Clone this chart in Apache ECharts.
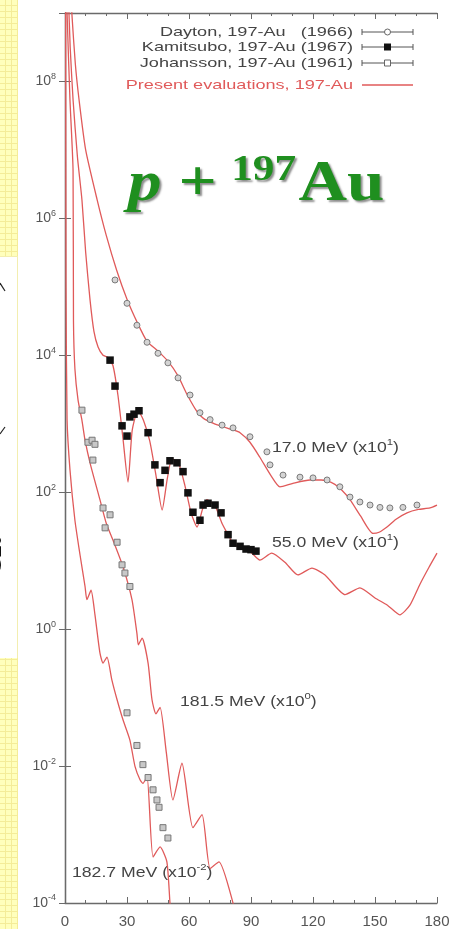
<!DOCTYPE html>
<html>
<head>
<meta charset="utf-8">
<script src="https://cdn.jsdelivr.net/npm/echarts@6/dist/echarts.min.js"></script>
<style>
  html, body { margin: 0; padding: 0; background: #ffffff; }
  #chart { width: 454px; height: 929px; }
</style>
</head>
<body>
<div id="chart"></div>
<script>
// p + 197Au elastic angular distributions (curves scaled as labelled)

// axis ticks
const xTicks = [0, 30, 60, 90, 120, 150, 180];
const yTickExponents = [-4, -2, 0, 2, 4, 6, 8];

// present evaluations: [angle (deg), dsigma/dOmega as plotted]
const eval17 = [[2.5,3.0e9],[3.4,9.0e8],[5.0,1.8e8],[6.8,5.4e7],[10,1.0e7],[15.5,1.9e6],[20,5.6e5],[25,1.75e5],[30,6.6e4],[35,3.0e4],[39.7,1.6e4],[45,1.15e4],[49.8,8.2e3],[54.7,5.0e3],[59,2.7e3],[63.9,1.5e3],[67,1.2e3],[71.6,1.02e3],[76,912],[81.3,813],[84.7,741],[89.5,537],[94.3,324],[99.5,178],[104,120],[110.3,135],[118.5,151],[124,151],[129.7,135],[134,107],[137.9,78],[143,45],[149,25],[152,26],[155.8,31],[160,40],[165.5,50],[171,56],[176.6,59],[180,65]];
const eval55 = [[1.5,2.5e9],[2.5,3.2e8],[3.9,5.4e7],[6.0,8.0e6],[8.2,1.86e6],[10,3.2e5],[12.1,6.5e4],[14,2.24e4],[16,1.32e4],[18.4,1.0e4],[20.8,9.3e3],[23.2,7.1e3],[25.6,2.63e3],[28.0,631],[30.5,141],[32.5,794],[35.3,1.58e3],[38.0,1.12e3],[41.0,562],[44.0,178],[47.0,55],[49.5,158],[51.8,309],[55.0,263],[58.0,126],[61.0,50],[63.9,31],[66.5,56],[68.7,78],[72.6,63],[76.0,35],[78.9,24],[81.3,18],[84.7,15.5],[90,13.2],[94.3,10.2],[100,12.9],[106.4,9.5],[112.7,6.2],[119.5,7.8],[125.8,6.2],[135.5,3.2],[142.7,4.0],[150,2.85],[156,2.24],[162,1.62],[166.9,2.24],[171.7,4.5],[176,7.9],[180,12.9]];
const eval181 = [[0.6,4.0e9],[1.0,1.0e9],[2.4,5.4e7],[3.9,5.0e6],[4.1,3.2e4],[4.8,6.3e3],[6.3,2.24e3],[8.2,1.12e3],[9.7,575],[12.1,269],[16.9,78],[20,35],[23.2,20],[28.1,8.1],[32.4,2.7],[34.8,0.87],[35.5,0.59],[37.3,0.74],[40.2,0.32],[42.1,0.093],[44.0,0.058],[46.0,0.072],[49,0.016],[52.2,3.2e-3],[56.6,0.011],[61.9,1.26e-3],[66.3,1.95e-3],[70.2,3.2e-4],[74.5,4.0e-4],[81.3,1.0e-4],[84,4.0e-5]];
const eval182 = [[0.3,4.0e9],[0.5,1.0e5],[1.0,1.15e3],[2.4,214],[4.8,39],[7.3,12],[9.7,4.2],[10.6,2.7],[12.6,3.7],[14.5,1.62],[16.9,0.45],[18.4,0.32],[20.3,0.39],[22.7,0.18],[25.2,0.093],[28.1,0.047],[31.4,0.024],[33.9,9.8e-3],[36.3,6.3e-3],[37.7,5.6e-3],[39.7,7.0e-3],[42.6,4.7e-4],[46.0,6.6e-4],[49.3,4.0e-4],[50.8,1.0e-4],[52,4.0e-5]];

// measured points
const dayton17 = [[24.2,1.26e5],[30.0,5.75e4],[34.8,2.75e4],[39.7,1.55e4],[45.0,1.07e4],[49.8,7.76e3],[54.7,4.68e3],[60.5,2.63e3],[65.3,1.45e3],[70.2,1.15e3],[76.0,955],[81.3,871],[89.5,646],[97.7,389],[99.2,251],[105.5,178],[113.7,166],[120.0,162],[126.8,151],[133.0,120],[137.9,85],[142.7,72],[147.6,65],[152.4,60],[157.2,59],[163.5,60],[170.3,65]];
const kamitsubo55 = [[21.8,8.5e3],[24.2,3.55e3],[27.6,933],[30.0,661],[31.4,1.26e3],[33.4,1.38e3],[35.8,1.55e3],[40.2,741],[43.5,251],[46.0,138],[48.4,209],[50.8,288],[54.2,269],[57.1,200],[59.5,98],[61.9,51],[65.3,39],[66.8,65],[69.2,69],[72.6,65],[75.5,50],[78.9,24],[81.3,18],[84.7,16.2],[87.6,14.8],[90.0,14.5],[92.4,13.8]];
const johansson181 = [[8.2,1.58e3],[11.1,537],[13.1,575],[13.5,295],[14.5,501],[18.4,58.9],[19.4,30.2],[21.8,46.8],[25.2,18.6],[27.6,8.7],[29.0,6.6],[31.4,4.2]];
const johansson182 = [[30.0,0.060],[34.8,0.020],[37.7,0.0105],[40.2,6.8e-3],[42.6,4.5e-3],[44.5,3.2e-3],[45.5,2.5e-3],[47.4,1.26e-3],[49.8,8.9e-4]];

// curve labels
const curveLabels = [
  { text: '17.0 MeV (x10{s|1})', x: 272, y: 448 },
  { text: '55.0 MeV (x10{s|1})', x: 272, y: 543 },
  { text: '181.5 MeV (x10{s|0})', x: 180, y: 702 },
  { text: '182.7 MeV (x10{s|-2})', x: 72, y: 873 }
];
const legendRows = [
  { text: 'Dayton, 197-Au   (1966)', marker: 'circle' },
  { text: 'Kamitsubo, 197-Au (1967)', marker: 'filled' },
  { text: 'Johansson, 197-Au (1961)', marker: 'square' },
  { text: 'Present evaluations, 197-Au', marker: 'line' }
];

const RED = '#e05a5a';
const AXIS = '#6a6a6a';
const LABEL = '#555555';
const SANS = '"Liberation Sans", Arial, sans-serif';
const SERIF = '"Liberation Serif", "Times New Roman", serif';

// yellow slide texture on the left edge
function gridPattern() {
  const c = document.createElement('canvas');
  c.width = 6; c.height = 6;
  const g = c.getContext('2d');
  g.fillStyle = '#ffffbc';
  g.fillRect(0, 0, 6, 6);
  g.fillStyle = '#f4ec98';
  g.fillRect(5, 0, 1, 6);
  g.fillRect(0, 5, 6, 1);
  return { image: c, repeat: 'repeat' };
}

const chart = echarts.init(document.getElementById('chart'), null, { renderer: 'canvas' });

const graphics = [];
const pattern = gridPattern();
graphics.push({ type: 'rect', shape: { x: 0, y: 0, width: 18, height: 256 }, style: { fill: pattern }, silent: true, z: -10 });
graphics.push({ type: 'rect', shape: { x: 0, y: 658, width: 18, height: 271 }, style: { fill: pattern }, silent: true, z: -10 });
graphics.push({ type: 'line', shape: { x1: 17.5, y1: 256, x2: 17.5, y2: 658 }, style: { stroke: '#f3eeb0', lineWidth: 1 }, silent: true, z: -9 });
graphics.push({ type: 'line', shape: { x1: 0, y1: 256.5, x2: 17.5, y2: 256.5 }, style: { stroke: '#f3eeb0', lineWidth: 1 }, silent: true, z: -9 });
// fragments of the neighbouring slide text
graphics.push({ type: 'polyline', shape: { points: [[0, 283], [5, 291]] }, style: { stroke: '#222', lineWidth: 1.2, fill: null }, silent: true });
graphics.push({ type: 'polyline', shape: { points: [[0, 434], [5, 427]] }, style: { stroke: '#222', lineWidth: 1.2, fill: null }, silent: true });
graphics.push({
  type: 'text', x: 11, y: 576, rotation: Math.PI / 2, silent: true,
  style: { text: 'el.', fontSize: 42, fontWeight: 'bold', fontFamily: SERIF, fill: '#111', align: 'left', verticalAlign: 'bottom' }
});

// title
const titleStyle = { fill: '#1f8f1f', fontFamily: SERIF, fontWeight: 'bold', textShadowColor: 'rgba(0,0,0,0.45)', textShadowBlur: 2, textShadowOffsetX: 2, textShadowOffsetY: 2, verticalAlign: 'middle', align: 'left' };
graphics.push({
  type: 'group', x: 128, y: 0, scaleX: 1.2, silent: true,
  children: [
    { type: 'text', x: 0, y: 186, style: Object.assign({}, titleStyle, { text: 'p', fontSize: 56, fontStyle: 'italic' }) },
    { type: 'text', x: 42, y: 186, style: Object.assign({}, titleStyle, { text: '+', fontSize: 56 }) },
    { type: 'text', x: 86, y: 171, style: Object.assign({}, titleStyle, { text: '197', fontSize: 36 }) },
    { type: 'text', x: 142, y: 186, style: Object.assign({}, titleStyle, { text: 'Au', fontSize: 56 }) }
  ]
});

// curve labels (stretched plot lettering)
curveLabels.forEach(function (l) {
  graphics.push({
    type: 'text', x: l.x, y: l.y, scaleX: 1.26, silent: true,
    style: {
      text: l.text, fontSize: 14, fontFamily: SANS, fill: '#444', align: 'left', verticalAlign: 'middle',
      rich: { s: { fontSize: 9, fontFamily: SANS, fill: '#444', padding: [0, 0, 10, 0] } }
    }
  });
});

// key
const keyY = [32, 47, 63, 85];
legendRows.forEach(function (row, i) {
  const y = keyY[i];
  const isRed = row.marker === 'line';
  graphics.push({
    type: 'text', x: 353, y: y, scaleX: 1.34, silent: true,
    style: { text: row.text, fontSize: 13.5, fontFamily: SANS, fill: isRed ? RED : '#444', align: 'right', verticalAlign: 'middle' }
  });
  if (isRed) {
    graphics.push({ type: 'line', shape: { x1: 362, y1: y, x2: 413, y2: y }, style: { stroke: RED, lineWidth: 1.4 }, silent: true });
    return;
  }
  graphics.push({ type: 'line', shape: { x1: 362, y1: y, x2: 413, y2: y }, style: { stroke: '#555', lineWidth: 1 }, silent: true });
  graphics.push({ type: 'line', shape: { x1: 362, y1: y - 3, x2: 362, y2: y + 3 }, style: { stroke: '#555', lineWidth: 1 }, silent: true });
  graphics.push({ type: 'line', shape: { x1: 413, y1: y - 3, x2: 413, y2: y + 3 }, style: { stroke: '#555', lineWidth: 1 }, silent: true });
  if (row.marker === 'circle') {
    graphics.push({ type: 'circle', shape: { cx: 387.5, cy: y, r: 3 }, style: { fill: '#fff', stroke: '#666', lineWidth: 1 }, silent: true });
  } else if (row.marker === 'filled') {
    graphics.push({ type: 'rect', shape: { x: 384, y: y - 3.5, width: 7, height: 7 }, style: { fill: '#111' }, silent: true });
  } else {
    graphics.push({ type: 'rect', shape: { x: 384.5, y: y - 3, width: 6, height: 6 }, style: { fill: '#fff', stroke: '#666', lineWidth: 1 }, silent: true });
  }
});

function supLabel(v) {
  const e = Math.round(Math.log10(v));
  if (yTickExponents.indexOf(e) < 0) return '';
  return '{b|10}{s|' + e + '}';
}

const axisCommon = {
  axisLine: { show: true, lineStyle: { color: AXIS, width: 1.3 } },
  axisTick: { show: true, inside: true, length: 6, lineStyle: { color: AXIS, width: 1 } },
  splitLine: { show: false }
};

function curve(name, data) {
  return {
    name: name, type: 'line', data: data, xAxisIndex: 0, yAxisIndex: 0,
    showSymbol: false, smooth: 0.2, clip: true, z: 2,
    lineStyle: { color: RED, width: 1.3 }
  };
}
function points(name, data, symbol, size, fill, border) {
  return {
    name: name, type: 'scatter', data: data, xAxisIndex: 0, yAxisIndex: 0,
    symbol: symbol, symbolSize: size, clip: true, z: 4,
    itemStyle: { color: fill, borderColor: border, borderWidth: border ? 1 : 0, opacity: 1 }
  };
}

chart.setOption({
  animation: false,
  backgroundColor: '#ffffff',
  grid: { left: 65, right: 17, top: 13, bottom: 26, containLabel: false },
  xAxis: [
    Object.assign({}, axisCommon, {
      type: 'value', position: 'bottom', min: 0, max: 180, interval: 30,
      minorTick: { show: true, splitNumber: 3, length: 3, lineStyle: { color: AXIS } },
      axisLabel: { show: true, margin: 11, fontSize: 15, color: LABEL, fontFamily: SANS,
        formatter: function (v) { return xTicks.indexOf(v) >= 0 ? String(v) : ''; } }
    }),
    Object.assign({}, axisCommon, {
      type: 'value', position: 'top', min: 0, max: 180, interval: 30,
      minorTick: { show: true, splitNumber: 3, length: 3, lineStyle: { color: AXIS } },
      axisLabel: { show: false }
    })
  ],
  yAxis: [
    Object.assign({}, axisCommon, {
      type: 'log', logBase: 10, position: 'left', min: 1e-4, max: 1e9, interval: 2,
      axisLabel: {
        show: true, margin: 9, color: LABEL, fontFamily: SANS, formatter: supLabel,
        rich: {
          b: { fontSize: 14, color: LABEL, fontFamily: SANS },
          s: { fontSize: 9, color: LABEL, fontFamily: SANS, padding: [0, 0, 10, 0] }
        }
      }
    }),
    Object.assign({}, axisCommon, {
      type: 'log', logBase: 10, position: 'right', min: 1e-4, max: 1e9, interval: 2,
      axisLabel: { show: false }
    })
  ],
  graphic: { elements: graphics },
  series: [
    curve('eval17', eval17),
    curve('eval55', eval55),
    curve('eval181', eval181),
    curve('eval182', eval182),
    points('Dayton', dayton17, 'circle', 6, '#d4d4d4', '#7a7a7a'),
    points('Kamitsubo', kamitsubo55, 'rect', 7.5, '#111111', null),
    points('Johansson181', johansson181, 'rect', 6, '#c8c8c8', '#777777'),
    points('Johansson182', johansson182, 'rect', 6, '#c8c8c8', '#777777')
  ]
});
</script>
</body>
</html>
